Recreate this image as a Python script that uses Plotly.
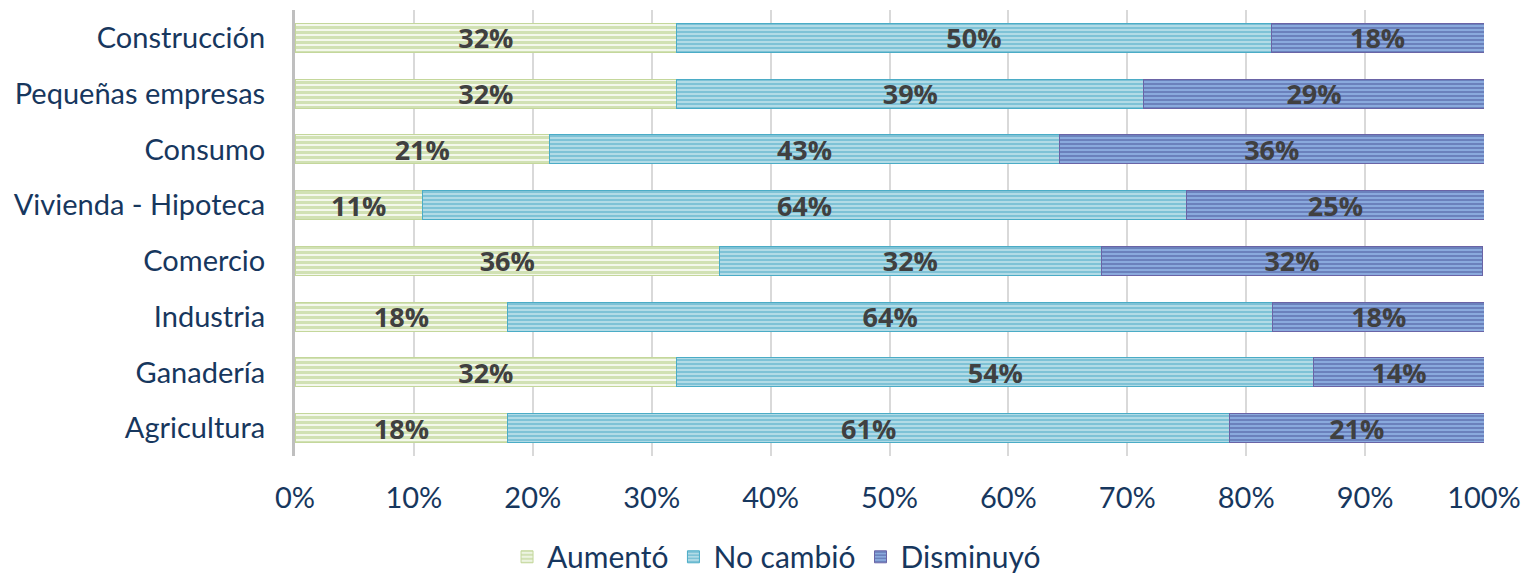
import plotly.graph_objects as go

categories = ["Agricultura", "Ganadería", "Industria", "Comercio",
              "Vivienda - Hipoteca", "Consumo", "Pequeñas empresas", "Construcción"]
aumento = [17.9, 32.1, 17.9, 35.7, 10.7, 21.4, 32.1, 32.1]
no_cambio = [60.7, 53.6, 64.3, 32.1, 64.3, 42.9, 39.3, 50.0]
disminuyo = [21.4, 14.3, 17.9, 32.1, 25.0, 35.7, 28.6, 17.9]
series_names = ["Aumentó", "No cambió", "Disminuyó"]
x_ticks = [0, 10, 20, 30, 40, 50, 60, 70, 80, 90, 100]
x_tick_labels = [f"{v}%" for v in x_ticks]

styles = [
    dict(fg="#adc97c", bg="#f4f8ec", line="#c4d79b", sol=0.6, size=5),
    dict(fg="#45a8c4", bg="#b7dde8", line="#4bacc6", sol=0.55, size=4),
    dict(fg="#4a5498", bg="#8daee0", line="#6a64a6", sol=0.55, size=4),
]

fig = go.Figure()
for name, vals, st in zip(series_names, [aumento, no_cambio, disminuyo], styles):
    fig.add_trace(go.Bar(
        y=categories, x=vals, name=name, orientation="h",
        marker=dict(color=st["bg"],
                    pattern=dict(shape="-", fgcolor=st["fg"], bgcolor=st["bg"],
                                 size=st["size"], solidity=st["sol"], fillmode="overlay"),
                    line=dict(color=st["line"], width=1)),
        text=[f"{round(v)}%" for v in vals], textposition="inside",
        insidetextanchor="middle", constraintext="none",
        textfont=dict(family="Open Sans", size=27, color="#404040", weight="bold"),
    ))

fig.update_layout(
    barmode="stack", bargap=0.48,
    width=1523, height=575, autosize=False,
    margin=dict(l=295, r=39, t=10, b=119, autoexpand=False),
    paper_bgcolor="white", plot_bgcolor="white",
    font=dict(family="Lato", color="#17375e"),
    legend=dict(orientation="h", x=0.405, xanchor="center",
                y=-0.226, yanchor="middle", font=dict(size=30, color="#17375e"),
                traceorder="normal"),
    showlegend=True,
)
fig.update_xaxes(range=[0, 100], tickmode="array", tickvals=x_ticks, ticktext=x_tick_labels,
                 showgrid=True, gridcolor="#d9d9d9", gridwidth=2,
                 zeroline=False, showline=False, automargin=False,
                 ticklabeloverflow="allow",
                 ticks="outside", ticklen=16, tickcolor="rgba(0,0,0,0)",
                 tickfont=dict(size=29, color="#17375e"))
fig.update_yaxes(showline=True, linecolor="#bfbfbf", linewidth=3, automargin=False,
                 ticklabeloverflow="allow",
                 ticks="outside", ticklen=21, tickcolor="rgba(0,0,0,0)",
                 tickfont=dict(size=29, color="#17375e"), showgrid=False)

fig.write_html("out.html", config={"displayModeBar": False},
               post_script="document.body.style.margin='0';document.body.style.overflow='hidden';")
